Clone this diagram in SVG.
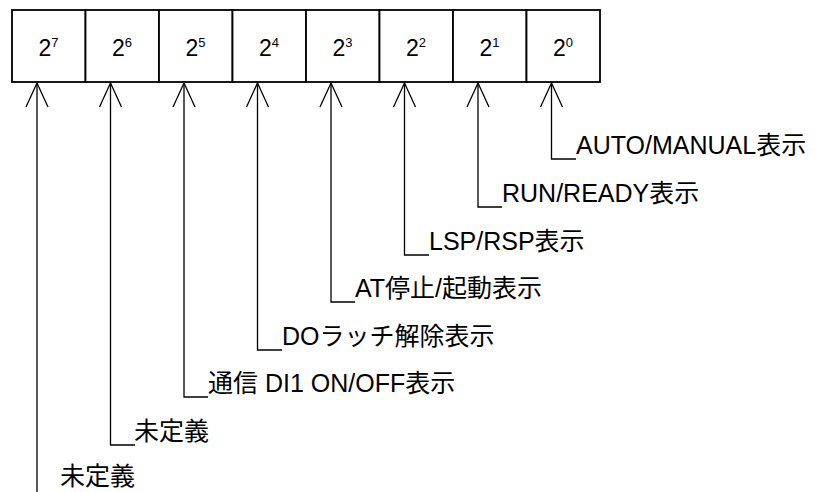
<svg xmlns="http://www.w3.org/2000/svg" width="827" height="492" viewBox="0 0 827 492">
<style>
.cell{fill:#fff;stroke:#000;stroke-width:1.8}
.bit{font-family:"Liberation Sans","Noto Sans CJK JP",sans-serif;font-size:23px;fill:#000;text-anchor:middle}
.sup{font-size:13px}
.lbl{font-family:"Liberation Sans","Noto Sans CJK JP",sans-serif;font-size:25px;fill:#000}
.con{fill:none;stroke:#000;stroke-width:1.3;marker-start:url(#ah)}
</style>
<defs>
<marker id="ah" markerUnits="userSpaceOnUse" viewBox="-26 -13 28 26" refX="0" refY="0" markerWidth="28" markerHeight="26" orient="auto-start-reverse">
<path d="M-24,-11 L0,0 L-24,11" fill="none" stroke="#000" stroke-width="1.3"/>
</marker>
</defs>
<g id="register">
<g id="bit7"><rect class="cell" x="12" y="10" width="73.5" height="72"/><text class="bit" x="48.5" y="56">2<tspan class="sup" dy="-9">7</tspan></text></g>
<g id="bit6"><rect class="cell" x="85.5" y="10" width="73.5" height="72"/><text class="bit" x="122" y="56">2<tspan class="sup" dy="-9">6</tspan></text></g>
<g id="bit5"><rect class="cell" x="159" y="10" width="73.5" height="72"/><text class="bit" x="195.5" y="56">2<tspan class="sup" dy="-9">5</tspan></text></g>
<g id="bit4"><rect class="cell" x="232.5" y="10" width="73.5" height="72"/><text class="bit" x="269" y="56">2<tspan class="sup" dy="-9">4</tspan></text></g>
<g id="bit3"><rect class="cell" x="306" y="10" width="73.5" height="72"/><text class="bit" x="342.5" y="56">2<tspan class="sup" dy="-9">3</tspan></text></g>
<g id="bit2"><rect class="cell" x="379.5" y="10" width="73.5" height="72"/><text class="bit" x="416" y="56">2<tspan class="sup" dy="-9">2</tspan></text></g>
<g id="bit1"><rect class="cell" x="453" y="10" width="73.5" height="72"/><text class="bit" x="489.5" y="56">2<tspan class="sup" dy="-9">1</tspan></text></g>
<g id="bit0"><rect class="cell" x="526.5" y="10" width="73.5" height="72"/><text class="bit" x="563" y="56">2<tspan class="sup" dy="-9">0</tspan></text></g>
</g>
<g id="connectors">
<path class="con" d="M551.5,83 V159 H576"/>
<path class="con" d="M478,83 V207 H502"/>
<path class="con" d="M404.5,83 V255 H429"/>
<path class="con" d="M331,83 V302 H355"/>
<path class="con" d="M257.5,83 V350 H282"/>
<path class="con" d="M184,83 V397 H208"/>
<path class="con" d="M110.5,83 V445 H135"/>
<path class="con" d="M37,83 V494"/>
</g>
<g id="label0"><text class="lbl" x="576" y="154">AUTO/MANUAL表示</text></g>
<g id="label1"><text class="lbl" x="502" y="202">RUN/READY表示</text></g>
<g id="label2"><text class="lbl" x="429" y="250">LSP/RSP表示</text></g>
<g id="label3"><text class="lbl" x="355" y="297">AT停止/起動表示</text></g>
<g id="label4"><text class="lbl" x="282" y="345">DOラッチ解除表示</text></g>
<g id="label5"><text class="lbl" x="208" y="392">通信 DI1 ON/OFF表示</text></g>
<g id="label6"><text class="lbl" x="134" y="440">未定義</text></g>
<g id="label7"><text class="lbl" x="60" y="485">未定義</text></g>
</svg>
